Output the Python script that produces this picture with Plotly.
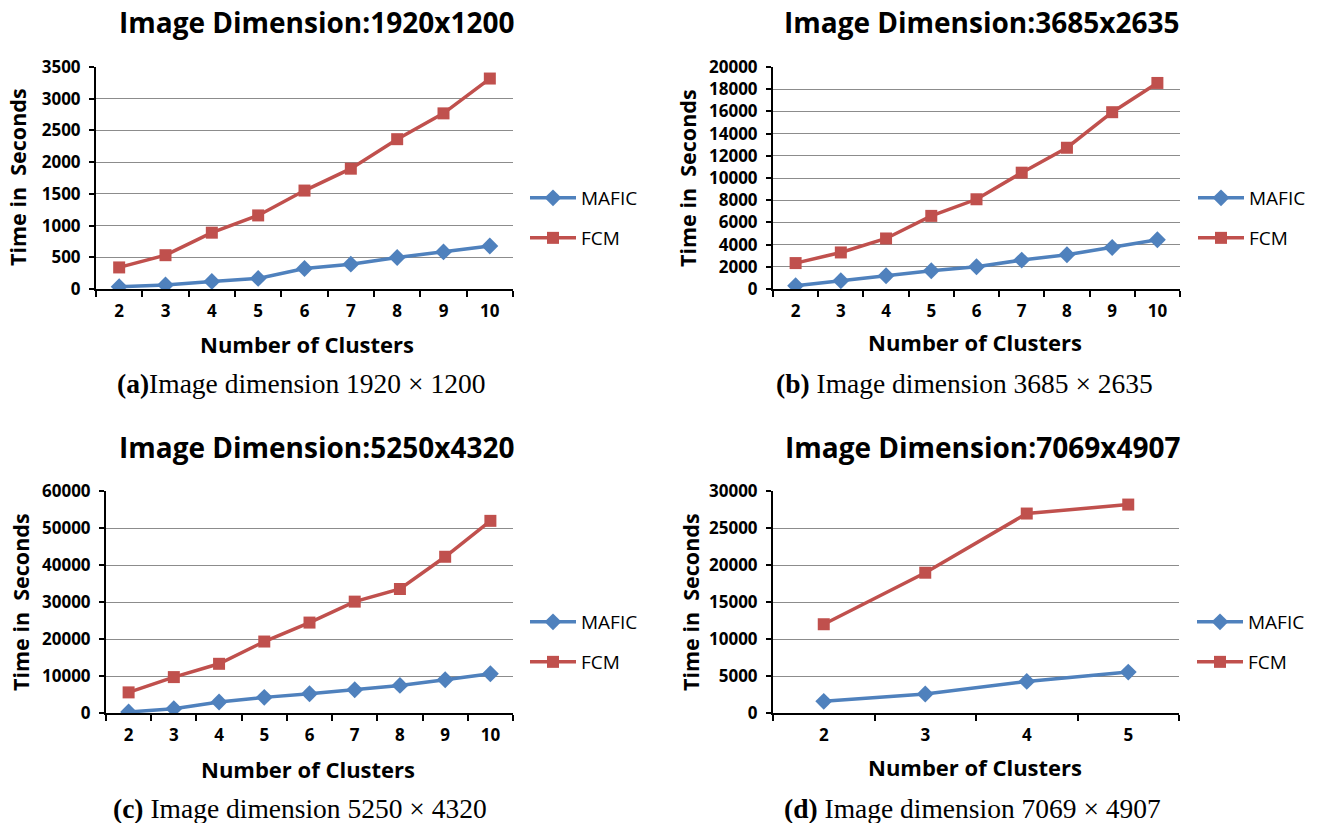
import plotly.graph_objects as go

W, H = 1318, 823

# ---------------- data ----------------
clusters_9 = [2, 3, 4, 5, 6, 7, 8, 9, 10]
clusters_4 = [2, 3, 4, 5]

mafic_a = [37, 63, 120, 167, 324, 392, 496, 585, 679]
fcm_a = [340, 533, 888, 1160, 1552, 1897, 2362, 2769, 3318]

mafic_b = [300, 749, 1198, 1647, 2006, 2605, 3084, 3743, 4431]
fcm_b = [2335, 3293, 4551, 6587, 8084, 10479, 12725, 15928, 18563]

mafic_c = [270, 1168, 2965, 4223, 5211, 6289, 7457, 8985, 10602]
fcm_c = [5570, 9703, 13297, 19317, 24438, 30099, 33513, 42228, 51932]

mafic_d = [1572, 2561, 4268, 5526]
fcm_d = [11995, 18958, 26954, 28167]

titles = ["Image Dimension:1920x1200", "Image Dimension:3685x2635",
          "Image Dimension:5250x4320", "Image Dimension:7069x4907"]
captions = ["<b>(a)</b>Image dimension 1920 × 1200",
            "<b>(b)</b> Image dimension 3685 × 2635",
            "<b>(c)</b> Image dimension 5250 × 4320",
            "<b>(d)</b> Image dimension 7069 × 4907"]
y_max = [3500, 20000, 60000, 30000]
y_step = [500, 2000, 10000, 5000]
series_names = ["MAFIC", "FCM"]

# ---------------- layout geometry (window pixels) ----------------
def px_x(p):
    return p / W

def px_y(p):
    return 1 - p / H

panels = [
    dict(x=(96, 513), y=(67, 289), cats=clusters_9, m=mafic_a, f=fcm_a,
         title=(316, 22), xt=(307, 344), yt=(18, 177), cap=(301, 383), leg=(198, 238), legx=525),
    dict(x=(773, 1180), y=(67, 289), cats=clusters_9, m=mafic_b, f=fcm_b,
         title=(982, 22), xt=(975, 342), yt=(688, 178), cap=(964, 383), leg=(198, 238), legx=1193),
    dict(x=(106, 513), y=(491, 713), cats=clusters_9, m=mafic_c, f=fcm_c,
         title=(316, 447), xt=(308, 769), yt=(20, 602), cap=(300, 808), leg=(622, 662), legx=525),
    dict(x=(773, 1179), y=(491, 713), cats=clusters_4, m=mafic_d, f=fcm_d,
         title=(983, 447), xt=(975, 767), yt=(690, 602), cap=(972, 808), leg=(622, 662), legx=1192),
]

BLUE = "#4F81BD"
RED = "#C0504D"
FONT = "Open Sans"
SERIF = "Liberation Serif"

fig = go.Figure()
layout = dict(
    width=W, height=H,
    margin=dict(l=0, r=0, t=0, b=0, autoexpand=False),
    paper_bgcolor="white", plot_bgcolor="white",
    font=dict(family=FONT, color="black"),
    annotations=[],
)

for i, p in enumerate(panels):
    n = i + 1
    xa = "x" if n == 1 else f"x{n}"
    ya = "y" if n == 1 else f"y{n}"
    leg_m = "legend" if i == 0 else f"legend{2 * i + 1}"
    leg_f = f"legend{2 * i + 2}"

    fig.add_trace(go.Scatter(
        x=p["cats"], y=p["m"], name=series_names[0], mode="lines+markers",
        line=dict(color=BLUE, width=3.5),
        marker=dict(symbol="diamond", size=13, color=BLUE),
        xaxis=xa, yaxis=ya, legend=leg_m, showlegend=True))
    fig.add_trace(go.Scatter(
        x=p["cats"], y=p["f"], name=series_names[1], mode="lines+markers",
        line=dict(color=RED, width=3.5),
        marker=dict(symbol="square", size=12, color=RED),
        xaxis=xa, yaxis=ya, legend=leg_f, showlegend=True))

    cats = p["cats"]
    lo, hi = cats[0] - 0.5, cats[-1] + 0.5
    xkey = "xaxis" if n == 1 else f"xaxis{n}"
    ykey = "yaxis" if n == 1 else f"yaxis{n}"
    layout[xkey] = dict(
        domain=[px_x(p["x"][0]), px_x(p["x"][1])],
        anchor=ya, range=[lo, hi], tickmode="array", tickvals=cats,
        ticktext=[str(c) for c in cats], ticks="", showgrid=False, zeroline=False,
        showline=True, linecolor="black", linewidth=2,
        tickfont=dict(family=FONT, size=17, color="black", weight="bold"),
        ticklabelstandoff=6,
        minor=dict(ticks="outside", tickmode="array",
                   tickvals=[c - 0.5 for c in cats] + [hi],
                   ticklen=6, tickwidth=1.5, tickcolor="black", showgrid=False),
        fixedrange=True,
    )
    layout[ykey] = dict(
        domain=[px_y(p["y"][1]), px_y(p["y"][0])],
        anchor=xa, range=[0, y_max[i]], dtick=y_step[i], tick0=0, tickformat="d",
        showgrid=True, gridcolor="#8C8C8C", gridwidth=1, zeroline=False,
        showline=True, linecolor="black", linewidth=2,
        ticks="outside", ticklen=5, tickwidth=1.5, tickcolor="black",
        tickfont=dict(family=FONT, size=17, color="black", weight="bold"),
        ticklabelstandoff=5,
        fixedrange=True,
    )

    for key, yy in ((leg_m, p["leg"][0]), (leg_f, p["leg"][1])):
        layout[key] = dict(
            x=px_x(p["legx"]), xanchor="left", xref="paper",
            y=px_y(yy), yanchor="middle", yref="paper",
            bgcolor="rgba(0,0,0,0)", borderwidth=0,
            font=dict(family=FONT, size=19, color="black"),
            itemwidth=46, itemclick=False, itemdoubleclick=False,
        )

    ann = layout["annotations"]
    ann.append(dict(text=titles[i], x=px_x(p["title"][0]), y=px_y(p["title"][1]),
                    xref="paper", yref="paper", xanchor="center", yanchor="middle",
                    showarrow=False,
                    font=dict(family=FONT, size=28, color="black", weight="bold")))
    ann.append(dict(text="Number of Clusters", x=px_x(p["xt"][0]), y=px_y(p["xt"][1]),
                    xref="paper", yref="paper", xanchor="center", yanchor="middle",
                    showarrow=False,
                    font=dict(family=FONT, size=22, color="black", weight="bold")))
    ann.append(dict(text="Time in  Seconds", x=px_x(p["yt"][0]), y=px_y(p["yt"][1]),
                    xref="paper", yref="paper", xanchor="center", yanchor="middle",
                    textangle=-90, showarrow=False,
                    font=dict(family=FONT, size=21.5, color="black", weight="bold")))
    ann.append(dict(text=captions[i], x=px_x(p["cap"][0]), y=px_y(p["cap"][1]),
                    xref="paper", yref="paper", xanchor="center", yanchor="middle",
                    showarrow=False,
                    font=dict(family=SERIF, size=27.5, color="black")))

fig.update_layout(**layout)
# remove the browser's default 8px body margin so the figure fills the window
fig.write_html("out.html", config={"displayModeBar": False},
               post_script="document.body.style.margin='0';document.body.style.overflow='hidden';")
